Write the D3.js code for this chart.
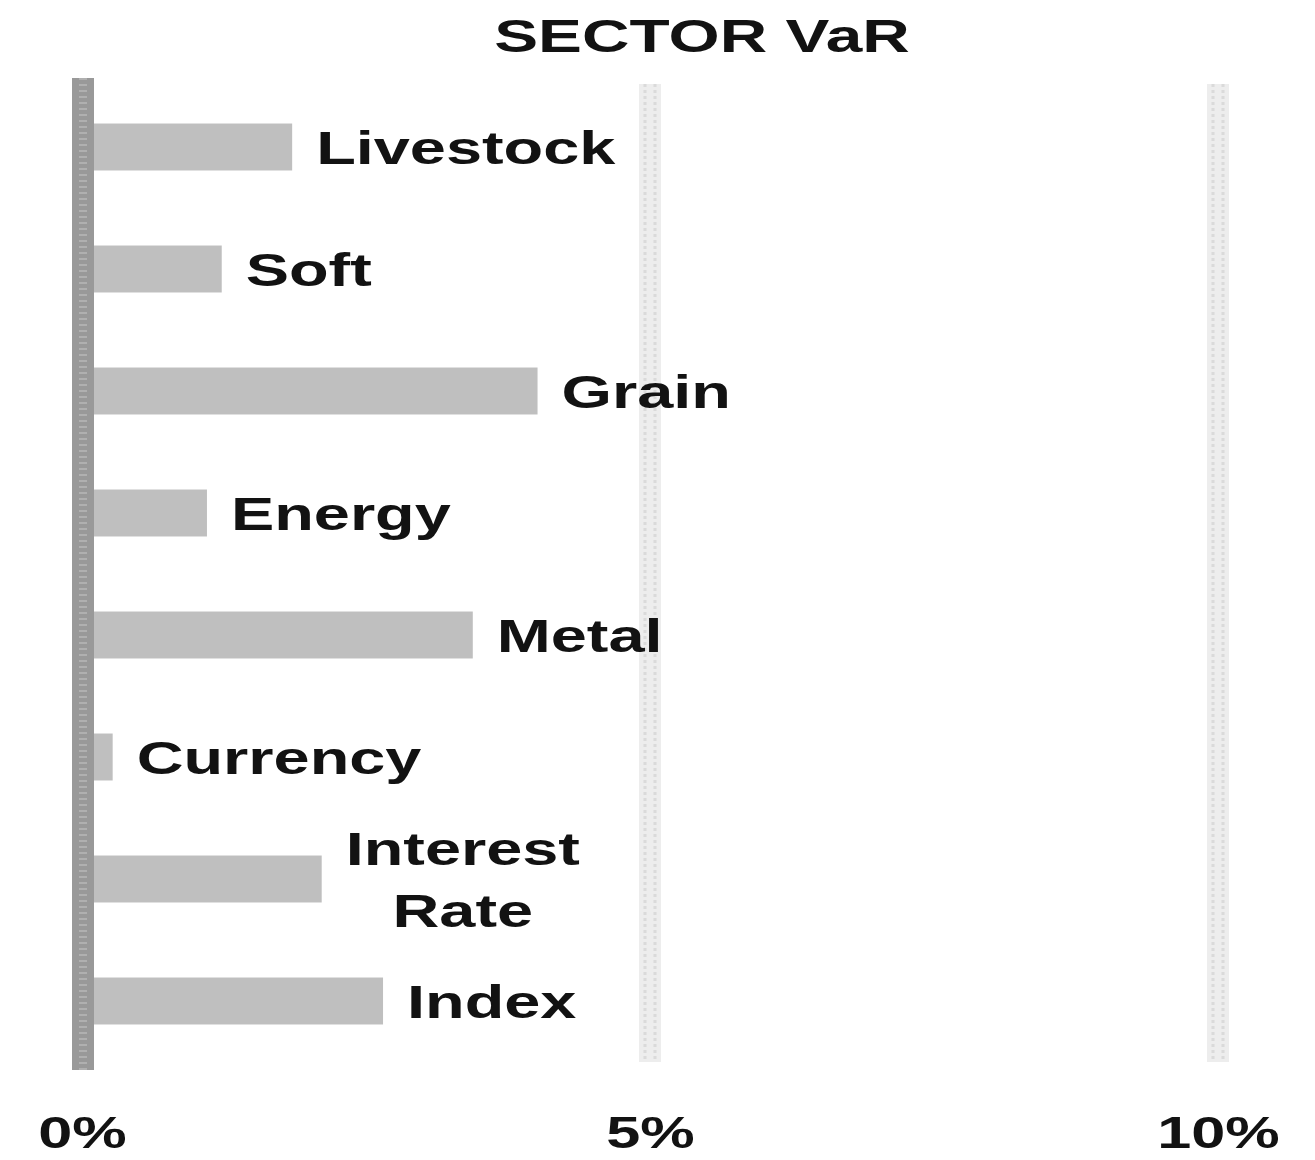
<!DOCTYPE html>
<html>
<head>
<meta charset="utf-8">
<script src="https://cdn.jsdelivr.net/npm/d3@7"></script>
<style>
  body { margin: 0; background: #fff; }
  text { font-family: "Liberation Sans", Arial, sans-serif; font-weight: bold; fill: #121212; }
</style>
</head>
<body>
<div id="chart"></div>
<script>
// sector VaR, in percent
var sectors = ["Livestock", "Soft", "Grain", "Energy", "Metal", "Currency", "Interest Rate", "Index"];
var varValues = [1.85, 1.23, 4.01, 1.10, 3.44, 0.27, 2.11, 2.65];
var tickValues = [0, 5, 10];
var sectorLines = { "Interest Rate": ["Interest", "Rate"] };

var W = 1315, H = 1160;
var stretch = 1.38; // glyphs in the picture are wide

var svg = d3.select("#chart").append("svg")
  .attr("width", W)
  .attr("height", H);

var x = d3.scaleLinear().domain([0, 10]).range([82, 1218]);
var y = d3.scaleBand().domain(sectors).range([86, 1062])
  .paddingInner(0.615).paddingOuter(0.3075);

// title
svg.append("g")
  .attr("transform", "translate(702,52)")
  .append("text")
  .attr("text-anchor", "middle")
  .attr("transform", "scale(1.40,1)")
  .style("font-size", "47px")
  .text("SECTOR VaR");

// light gridlines at 5% and 10%
var grid = svg.append("g").attr("class", "grid");
grid.selectAll("rect")
  .data(tickValues.slice(1))
  .enter().append("rect")
  .attr("x", function(d){ return x(d) - 11; })
  .attr("y", 84)
  .attr("width", 22)
  .attr("height", 978)
  .style("fill", "#ededed");
[-5, 5].forEach(function(off){
  grid.selectAll(".gl" + (off + 5))
    .data(tickValues.slice(1))
    .enter().append("line")
    .attr("x1", function(d){ return x(d) + off; })
    .attr("x2", function(d){ return x(d) + off; })
    .attr("y1", 84)
    .attr("y2", 1062)
    .style("stroke", "#dadada")
    .style("stroke-width", 3)
    .style("stroke-dasharray", "3,3");
});

// bars
svg.append("g").selectAll("rect")
  .data(varValues)
  .enter().append("rect")
  .attr("x", x(0))
  .attr("y", function(d, i){ return y(sectors[i]); })
  .attr("width", function(d){ return x(d) - x(0); })
  .attr("height", y.bandwidth())
  .style("fill", "#bfbfbf");

// zero axis line
svg.append("rect")
  .attr("x", x(0) - 10)
  .attr("y", 78)
  .attr("width", 22)
  .attr("height", 992)
  .style("fill", "#999999");
svg.append("line")
  .attr("x1", x(0) + 1).attr("x2", x(0) + 1)
  .attr("y1", 78).attr("y2", 1070)
  .style("stroke", "#b0b0b0")
  .style("stroke-width", 8)
  .style("stroke-dasharray", "2,4");

// bar labels
var labels = svg.append("g").selectAll("g")
  .data(varValues)
  .enter().append("g")
  .attr("transform", function(d, i){
    return "translate(" + (x(d) + 24) + "," + (y(sectors[i]) + y.bandwidth() / 2) + ")";
  });

labels.each(function(d, i){
  var lines = sectorLines[sectors[i]] || [sectors[i]];
  var t = d3.select(this).append("text")
    .attr("transform", "scale(" + stretch + ",1)")
    .style("font-size", "47px");
  var lh = 62;
  var first = -(lines.length - 1) * lh / 2 + 17;
  lines.forEach(function(s, k){
    t.append("tspan").attr("x", 0).attr("y", first + k * lh).text(s);
  });
  if (lines.length > 1) {
    // center the lines on each other
    var wMax = 0;
    t.selectAll("tspan").each(function(){ wMax = Math.max(wMax, this.getComputedTextLength()); });
    t.attr("text-anchor", "middle").selectAll("tspan").attr("x", wMax / 2);
  }
});

// x axis tick labels
var xAxis = svg.append("g")
  .attr("transform", "translate(0,1100)")
  .call(d3.axisBottom(x).tickValues(tickValues).tickSize(0).tickFormat(function(d){ return d + "%"; }));
xAxis.select(".domain").remove();
xAxis.selectAll("text")
  .attr("y", 48)
  .attr("dy", null)
  .attr("transform", "scale(1.36,1)")
  .attr("fill", null)
  .style("font-size", "45px")
  .style("font-family", "'Liberation Sans', Arial, sans-serif");
</script>
</body>
</html>
